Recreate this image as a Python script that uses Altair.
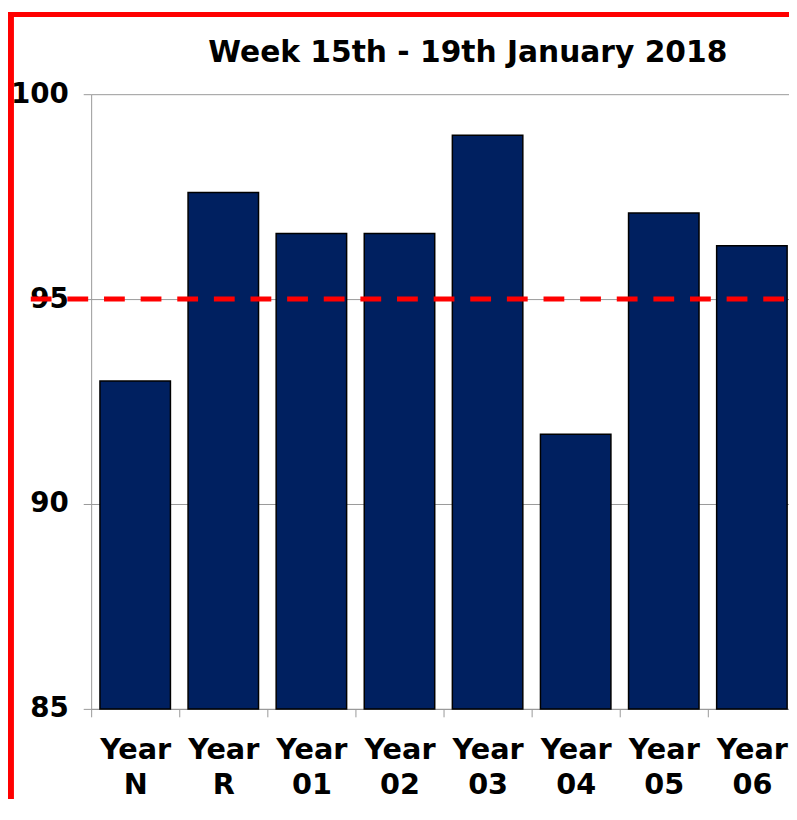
import altair as alt
import pandas as pd

# ---- data ----
categories = ["Year N", "Year R", "Year 01", "Year 02", "Year 03", "Year 04", "Year 05", "Year 06"]
values = [93.0, 97.6, 96.6, 96.6, 99.0, 91.7, 97.1, 96.3]
target_value = [95]
y_ticks = [85, 90, 95, 100]
y_min, y_max = 85, 100
title_text = "Week 15th - 19th January 2018"

df = pd.DataFrame({"year": categories, "pct": values})
df_target = pd.DataFrame({"target": target_value})
df_frame = pd.DataFrame({"k": [0]})

W = 705          # visible plot width
H = 621          # plot height
PAD_TOP, PAD_LEFT, PAD_BOTTOM = 83, 84, 91
BAND_RANGE = 712 # full band range (last band is cut by the page edge)
STEP = BAND_RANGE / len(categories)
FONT = "DejaVu Sans"

x_enc = alt.X(
    "year:N",
    sort=categories,
    scale=alt.Scale(range=[0, BAND_RANGE], paddingInner=0.2, paddingOuter=0.1),
    axis=alt.Axis(
        title=None,
        labelAngle=0,
        labelExpr="split(datum.label, ' ')",
        labelFont=FONT,
        labelFontSize=29,
        labelFontWeight="bold",
        labelColor="black",
        labelLineHeight=35,
        labelPadding=19,
        labelLimit=0,
        tickSize=8,
        tickColor="#999999",
        domainColor="#999999",
        tickOffset=-STEP / 2,
        labelOffset=STEP / 2,
        grid=False,
        zindex=0,
    ),
)

y_enc = alt.Y(
    "pct:Q",
    scale=alt.Scale(domain=[y_min, y_max], zero=False, nice=False),
    axis=alt.Axis(
        title=None,
        values=y_ticks,
        grid=True,
        gridColor="#999999",
        domainColor="#999999",
        tickColor="#999999",
        tickSize=8,
        labelFont=FONT,
        labelFontSize=28,
        labelFontWeight="bold",
        labelColor="black",
        labelPadding=15,
        zindex=0,
    ),
)

bars = alt.Chart(df).mark_bar(
    fill="#002060", stroke="black", strokeWidth=1.5
).encode(x=x_enc, y=y_enc, y2=alt.datum(y_min))

target = alt.Chart(df_target).mark_rule(
    color="#FF0000", strokeWidth=5, strokeDash=[21, 16]
).encode(y=alt.Y("target:Q"), x=alt.value(-61), x2=alt.value(W))

frame_top = alt.Chart(df_frame).mark_rect(color="#FF0000").encode(
    x=alt.value(-PAD_LEFT), x2=alt.value(W), y=alt.value(-PAD_TOP), y2=alt.value(-PAD_TOP + 5)
)
frame_left = alt.Chart(df_frame).mark_rect(color="#FF0000").encode(
    x=alt.value(-PAD_LEFT), x2=alt.value(-PAD_LEFT + 6), y=alt.value(-PAD_TOP), y2=alt.value(H + PAD_BOTTOM)
)

chart = (
    alt.layer(bars, target, frame_top, frame_left)
    .properties(
        width=W,
        height=H,
        padding={"left": PAD_LEFT, "top": PAD_TOP, "right": 0, "bottom": PAD_BOTTOM},
        autosize=alt.AutoSizeParams(type="none"),
        title=alt.Title(
            title_text,
            font=FONT,
            fontSize=30,
            fontWeight="bold",
            color="black",
            anchor="middle",
            frame="group",
            dx=28,
            baseline="alphabetic",
            offset=-80,
        ),
        background="white",
    )
    .configure_view(stroke=None)
)

chart.save("out.html", embed_options={"renderer": "svg", "actions": False})
